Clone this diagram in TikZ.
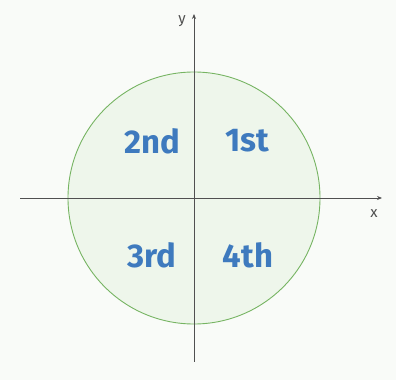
\documentclass[tikz,border=0pt]{standalone}
\usepackage{fontspec}
\setmainfont{Fira Sans}
\usepackage{tikz}
\usetikzlibrary{
  arrows.meta,
  positioning
}
\tikzset{>={Stealth[length=5pt,width=4pt]}}
\definecolor{paper}{RGB}{249,251,248}
\definecolor{discfill}{RGB}{238,246,235}
\definecolor{discline}{RGB}{118,180,98}
\definecolor{quadblue}{RGB}{62,122,190}
\definecolor{axisgray}{RGB}{80,80,80}
\tikzset{
  axisline/.style={draw=axisgray, line width=0.9pt},
  quadlabel/.style={text=quadblue, font=\fontsize{33}{33}\selectfont\bfseries, inner sep=0pt},
  axislabel/.style={text=axisgray, font=\fontsize{15}{15}\selectfont, inner sep=0pt}
}

\begin{document}
\begin{tikzpicture}[x=1bp,y=1bp]
				\useasboundingbox[fill=paper] (0,0) rectangle (396,380);
				\coordinate (O) at (194,182);
				\coordinate (xL) at (20,182);
				\coordinate (xR) at (382,182);
				\coordinate (yB) at (194,18);
				\coordinate (yT) at (194,366);
				\draw[draw=discline, fill=discfill, line width=0.9pt] (O) circle[radius=126];
				\draw[axisline,->] (xL)--(xR);
				\draw[axisline,->] (yB)--(yT);
				\node[axislabel] (xlab) at (374,166) {x};
				\node[axislabel] (ylab) at (182,359) {y};
				\node[quadlabel] (q1) at (247,239) {1st};
				\node[quadlabel] (q2) at (152,239) {2nd};
				\node[quadlabel] (q3) at (152,125) {3rd};
				\node[quadlabel] (q4) at (248,125) {4th};
			\end{tikzpicture}
\end{document}
